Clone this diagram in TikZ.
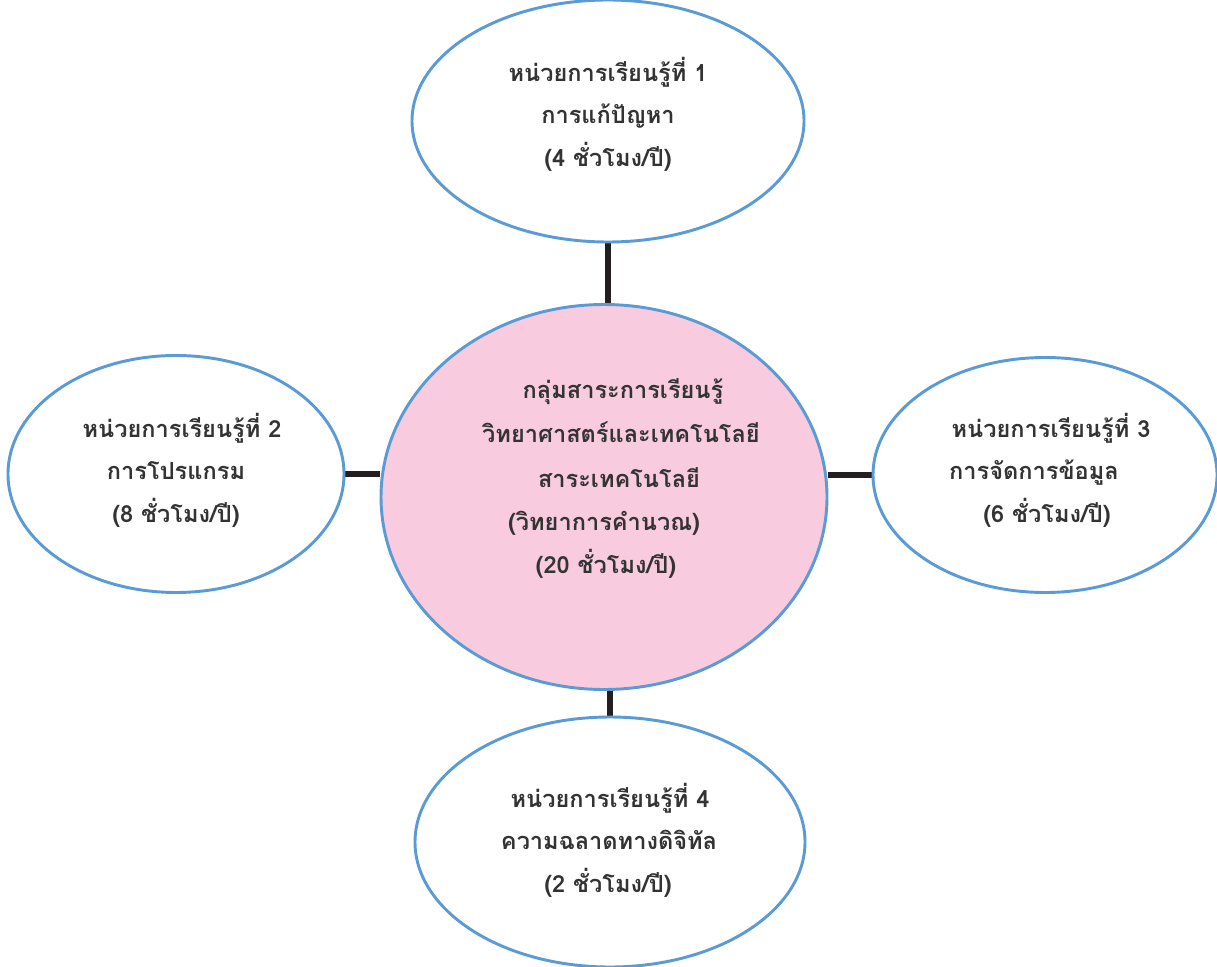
\documentclass[tikz,border=0pt]{standalone}
\usepackage{fontspec}
\newfontfamily\thaifont[Script=Thai]{Loma}
\usetikzlibrary{shapes.geometric,backgrounds}
\definecolor{edgeblue}{HTML}{5B9BD5}
\definecolor{centerpink}{HTML}{F8CBDF}
\definecolor{linkblack}{HTML}{231F20}
\definecolor{txtgray}{HTML}{333333}
\begin{document}
\begin{tikzpicture}[x=0.0264cm,y=-0.0264cm,
  bubble/.style={ellipse,draw=edgeblue,line width=2.2pt,inner sep=0pt,fill=white},
  txt/.style={anchor=base,inner sep=0pt,text=txtgray,font=\thaifont\bfseries\fontsize{17.7}{20}\selectfont},
  link/.style={draw=linkblack,line width=4pt}]
\useasboundingbox (0,0) rectangle (1217,967);
\node[bubble,minimum width=392*0.0264cm,minimum height=242*0.0264cm] (top) at (608,121) {};
\node[bubble,minimum width=336*0.0264cm,minimum height=237*0.0264cm] (left) at (176,474) {};
\node[bubble,fill=centerpink,minimum width=446*0.0264cm,minimum height=385*0.0264cm] (mid) at (604,497) {};
\node[bubble,minimum width=344*0.0264cm,minimum height=235*0.0264cm] (right) at (1045,475) {};
\node[bubble,minimum width=390*0.0264cm,minimum height=250*0.0264cm] (bottom) at (610,842) {};
\begin{pgfonlayer}{background}
\draw[link] (top.south) -- (top.south |- mid.north);
\draw[link] (left.east) -- (left.east -| mid.west);
\draw[link] (right.west -| mid.east) -- (right.west);
\draw[link] (mid.south -| bottom.north) -- (bottom.north);
\end{pgfonlayer}
% top
\node[txt] (t1a) at (608,82) {หน่วยการเรียนรู้ที่ 1};
\node[txt] (t1b) at (608,124) {การแก้ปัญหา};
\node[txt] (t1c) at (608,167) {(4 ชั่วโมง/ปี)};
% left
\node[txt] (t2a) at (182,437) {หน่วยการเรียนรู้ที่ 2};
\node[txt] (t2b) at (176,479) {การโปรแกรม};
\node[txt] (t2c) at (176,522) {(8 ชั่วโมง/ปี)};
% right
\node[txt] (t3a) at (1051,437) {หน่วยการเรียนรู้ที่ 3};
\node[txt] (t3b) at (1034,479) {การจัดการข้อมูล};
\node[txt] (t3c) at (1047,522) {(6 ชั่วโมง/ปี)};
% bottom
\node[txt] (t4a) at (610,807) {หน่วยการเรียนรู้ที่ 4};
\node[txt] (t4b) at (609,849) {ความฉลาดทางดิจิทัล};
\node[txt] (t4c) at (608,892) {(2 ชั่วโมง/ปี)};
% centre
\node[txt] (tma) at (623,398) {กลุ่มสาระการเรียนรู้};
\node[txt] (tmb) at (621,442) {วิทยาศาสตร์และเทคโนโลยี};
\node[txt] (tmc) at (619,487) {สาระเทคโนโลยี};
\node[txt] (tmd) at (604,530) {(วิทยาการคำนวณ)};
\node[txt] (tme) at (606,573) {(20 ชั่วโมง/ปี)};
\end{tikzpicture}
\end{document}
